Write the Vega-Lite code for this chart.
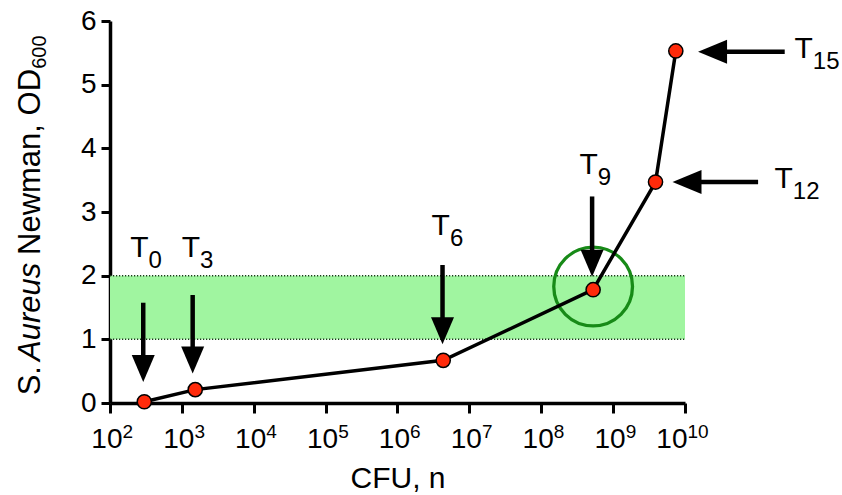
{
  "$schema": "https://vega.github.io/schema/vega-lite/v6.json",
  "width": 575,
  "height": 382,
  "autosize": {"type": "none"},
  "padding": {"left": 110, "top": 21, "right": 157, "bottom": 92},
  "background": "white",
  "config": {"view": {"stroke": null}, "font": "Liberation Sans"},
  "datasets": {
    "band": [{"x1": 100, "x2": 10000000000, "y1": 1, "y2": 2}],
    "edges": [{"x1": 100, "x2": 10000000000, "y": 1}, {"x1": 100, "x2": 10000000000, "y": 2}],
    "pts": [
      {"cfu": 300, "od": 0.02},
      {"cfu": 1535, "od": 0.21},
      {"cfu": 4330000, "od": 0.67},
      {"cfu": 527000000, "od": 1.78},
      {"cfu": 3890000000, "od": 3.47},
      {"cfu": 7450000000, "od": 5.53}
    ],
    "circle": [{"cx": 527000000, "cy": 1.83}],
    "arrows": [
      {"t": "0", "dir": "down", "x1": 290, "y1": 1.575, "x2": 290, "y2": 0.5, "hx": 290, "hy": 0.33},
      {"t": "3", "dir": "down", "x1": 1413, "y1": 1.696, "x2": 1413, "y2": 0.65, "hx": 1413, "hy": 0.463},
      {"t": "6", "dir": "down", "x1": 4230000, "y1": 2.168, "x2": 4230000, "y2": 1.1, "hx": 4230000, "hy": 0.924},
      {"t": "9", "dir": "down", "x1": 510000000, "y1": 3.244, "x2": 510000000, "y2": 2.17, "hx": 510000000, "hy": 1.984},
      {"t": "12", "dir": "left", "x1": 104000000000, "y1": 3.471, "x2": 10200000000, "y2": 3.471, "hx": 6700000000, "hy": 3.471},
      {"t": "15", "dir": "left", "x1": 244000000000, "y1": 5.518, "x2": 23000000000, "y2": 5.518, "hx": 15200000000, "hy": 5.518}
    ],
    "labels": [
      {"sub": "0", "lx": 343, "ly": 2.30},
      {"sub": "3", "lx": 1786, "ly": 2.30},
      {"sub": "6", "lx": 5360000, "ly": 2.64},
      {"sub": "9", "lx": 612000000, "ly": 3.60},
      {"sub": "12", "lx": 316000000000, "ly": 3.376},
      {"sub": "15", "lx": 600000000000, "ly": 5.42}
    ],
    "ytitle": [
      {"seg": "S.", "pos": 0.12},
      {"seg": "Newman, OD", "pos": 2.325}
    ],
    "yital": [{"seg": "Aureus", "pos": 0.66}],
    "ysub": [{"seg": "600", "pos": 5.25}]
  },
  "resolve": {"axis": {"x": "independent", "y": "independent"}},
  "layer": [
    {
      "data": {"name": "band"},
      "mark": {"type": "rect", "fill": "#a0f5a0"},
      "encoding": {
        "x": {"field": "x1", "type": "quantitative",
              "scale": {"type": "log", "domain": [100, 10000000000], "nice": false},
              "axis": {"orient": "bottom", "values": [100, 1000, 10000, 100000, 1000000, 10000000, 100000000, 1000000000, 10000000000],
                       "labelExpr": "format(log(datum.value)/LN10, '.0f')",
                       "domain": false, "grid": false, "ticks": true, "tickSize": 10, "tickOpacity": 0,
                       "labelFont": "Liberation Sans", "labelFontSize": 19, "labelColor": "black",
                       "labelAlign": "left", "labelBaseline": "alphabetic",
                       "labelOffset": {"condition": {"test": "datum.value > 5000000000", "value": 2}, "value": 12},
                       "labelPadding": 24,
                       "labelOverlap": false, "labelFlush": false, "title": null}},
        "x2": {"field": "x2"},
        "y": {"field": "y1", "type": "quantitative", "scale": {"domain": [0, 6], "nice": false},
              "axis": {"orient": "left", "values": [0, 1, 2, 3, 4, 5, 6], "domain": true, "domainColor": "black", "domainWidth": 3.5,
                       "ticks": true, "tickColor": "black", "tickWidth": 3, "tickSize": 9, "grid": false,
                       "labelFont": "Liberation Sans", "labelFontSize": 28, "labelColor": "black", "labelPadding": 5,
                       "labelFlush": false, "labelOverlap": false, "title": null}},
        "y2": {"field": "y2"}
      }
    },
    {
      "data": {"name": "edges"},
      "mark": {"type": "rule", "stroke": "#1a3a1a", "strokeWidth": 1.5, "strokeDash": [1.2, 1.8]},
      "encoding": {
        "x": {"field": "x1", "type": "quantitative", "scale": {"type": "log", "domain": [100, 10000000000], "nice": false}, "axis": null},
        "x2": {"field": "x2"},
        "y": {"field": "y", "type": "quantitative", "scale": {"domain": [0, 6], "nice": false}, "axis": null}
      }
    },
    {
      "data": {"name": "circle"},
      "mark": {"type": "point", "shape": "circle", "filled": false, "stroke": "#178a17", "strokeWidth": 3.3, "size": 6200, "opacity": 1},
      "encoding": {
        "x": {"field": "cx", "type": "quantitative", "scale": {"type": "log", "domain": [100, 10000000000], "nice": false}, "axis": null},
        "y": {"field": "cy", "type": "quantitative", "scale": {"domain": [0, 6], "nice": false}, "axis": null}
      }
    },
    {
      "data": {"name": "pts"},
      "mark": {"type": "line", "stroke": "black", "strokeWidth": 3.5},
      "encoding": {
        "x": {"field": "cfu", "type": "quantitative",
              "scale": {"type": "log", "domain": [100, 10000000000], "nice": false},
              "axis": {"orient": "bottom", "values": [100, 1000, 10000, 100000, 1000000, 10000000, 100000000, 1000000000, 10000000000],
                       "labelExpr": "'10'", "domain": true, "domainColor": "black", "domainWidth": 3.5,
                       "ticks": true, "tickColor": "black", "tickWidth": 3, "tickSize": 10, "grid": false,
                       "labelFont": "Liberation Sans", "labelFontSize": 28, "labelColor": "black",
                       "labelAlign": "right", "labelBaseline": "alphabetic",
                       "labelOffset": {"condition": {"test": "datum.value > 5000000000", "value": 2}, "value": 12},
                       "labelPadding": 34,
                       "labelOverlap": false, "labelFlush": false,
                       "title": "CFU, n", "titleFont": "Liberation Sans", "titleFontSize": 30, "titleFontWeight": "normal",
                       "titleColor": "black", "titleBaseline": "alphabetic", "titleY": 84}},
        "y": {"field": "od", "type": "quantitative", "scale": {"domain": [0, 6], "nice": false}, "axis": null}
      }
    },
    {
      "data": {"name": "pts"},
      "mark": {"type": "point", "shape": "circle", "filled": true, "fill": "#ff2a0a", "stroke": "black", "strokeWidth": 1.5, "size": 200, "opacity": 1},
      "encoding": {
        "x": {"field": "cfu", "type": "quantitative", "scale": {"type": "log", "domain": [100, 10000000000], "nice": false}, "axis": null},
        "y": {"field": "od", "type": "quantitative", "scale": {"domain": [0, 6], "nice": false}, "axis": null}
      }
    },
    {
      "data": {"name": "arrows"},
      "mark": {"type": "rule", "stroke": "black", "strokeWidth": 4.5},
      "encoding": {
        "x": {"field": "x1", "type": "quantitative", "scale": {"type": "log", "domain": [100, 10000000000], "nice": false}, "axis": null},
        "x2": {"field": "x2"},
        "y": {"field": "y1", "type": "quantitative", "scale": {"domain": [0, 6], "nice": false}, "axis": null},
        "y2": {"field": "y2"}
      }
    },
    {
      "data": {"name": "arrows"},
      "transform": [{"filter": "datum.dir === 'down'"}],
      "mark": {"type": "point", "shape": "M0,0 L-1.15,-2.7 L1.15,-2.7 Z", "filled": true, "fill": "black", "strokeWidth": 0, "size": 400, "opacity": 1},
      "encoding": {
        "x": {"field": "hx", "type": "quantitative", "scale": {"type": "log", "domain": [100, 10000000000], "nice": false}, "axis": null},
        "y": {"field": "hy", "type": "quantitative", "scale": {"domain": [0, 6], "nice": false}, "axis": null}
      }
    },
    {
      "data": {"name": "arrows"},
      "transform": [{"filter": "datum.dir === 'left'"}],
      "mark": {"type": "point", "shape": "M0,0 L-1.2,-2.9 L1.2,-2.9 Z", "angle": 90, "filled": true, "fill": "black", "strokeWidth": 0, "size": 400, "opacity": 1},
      "encoding": {
        "x": {"field": "hx", "type": "quantitative", "scale": {"type": "log", "domain": [100, 10000000000], "nice": false}, "axis": null},
        "y": {"field": "hy", "type": "quantitative", "scale": {"domain": [0, 6], "nice": false}, "axis": null}
      }
    },
    {
      "data": {"name": "labels"},
      "mark": {"type": "text", "text": "T", "align": "right", "baseline": "alphabetic", "font": "Liberation Sans", "fontSize": 30, "fill": "black"},
      "encoding": {
        "x": {"field": "lx", "type": "quantitative", "scale": {"type": "log", "domain": [100, 10000000000], "nice": false}, "axis": null},
        "y": {"field": "ly", "type": "quantitative", "scale": {"domain": [0, 6], "nice": false}, "axis": null}
      }
    },
    {
      "data": {"name": "labels"},
      "mark": {"type": "text", "align": "left", "baseline": "alphabetic", "dx": 0, "dy": 11, "font": "Liberation Sans", "fontSize": 24, "fill": "black"},
      "encoding": {
        "text": {"field": "sub"},
        "x": {"field": "lx", "type": "quantitative", "scale": {"type": "log", "domain": [100, 10000000000], "nice": false}, "axis": null},
        "y": {"field": "ly", "type": "quantitative", "scale": {"domain": [0, 6], "nice": false}, "axis": null}
      }
    },
    {
      "data": {"name": "ytitle"},
      "mark": {"type": "text", "angle": 270, "align": "left", "baseline": "alphabetic", "font": "Liberation Sans", "fontSize": 31, "fill": "black"},
      "encoding": {
        "text": {"field": "seg"},
        "x": {"datum": 10.5, "type": "quantitative", "scale": {"type": "log", "domain": [100, 10000000000], "nice": false}, "axis": null},
        "y": {"field": "pos", "type": "quantitative", "scale": {"domain": [0, 6], "nice": false}, "axis": null}
      }
    },
    {
      "data": {"name": "yital"},
      "mark": {"type": "text", "angle": 270, "align": "left", "baseline": "alphabetic", "font": "Liberation Sans", "fontStyle": "italic", "fontSize": 31, "fill": "black"},
      "encoding": {
        "text": {"field": "seg"},
        "x": {"datum": 10.5, "type": "quantitative", "scale": {"type": "log", "domain": [100, 10000000000], "nice": false}, "axis": null},
        "y": {"field": "pos", "type": "quantitative", "scale": {"domain": [0, 6], "nice": false}, "axis": null}
      }
    },
    {
      "data": {"name": "ysub"},
      "mark": {"type": "text", "angle": 270, "align": "left", "baseline": "alphabetic", "dy": 6, "font": "Liberation Sans", "fontSize": 20, "fill": "black"},
      "encoding": {
        "text": {"field": "seg"},
        "x": {"datum": 10.5, "type": "quantitative", "scale": {"type": "log", "domain": [100, 10000000000], "nice": false}, "axis": null},
        "y": {"field": "pos", "type": "quantitative", "scale": {"domain": [0, 6], "nice": false}, "axis": null}
      }
    }
  ]
}
